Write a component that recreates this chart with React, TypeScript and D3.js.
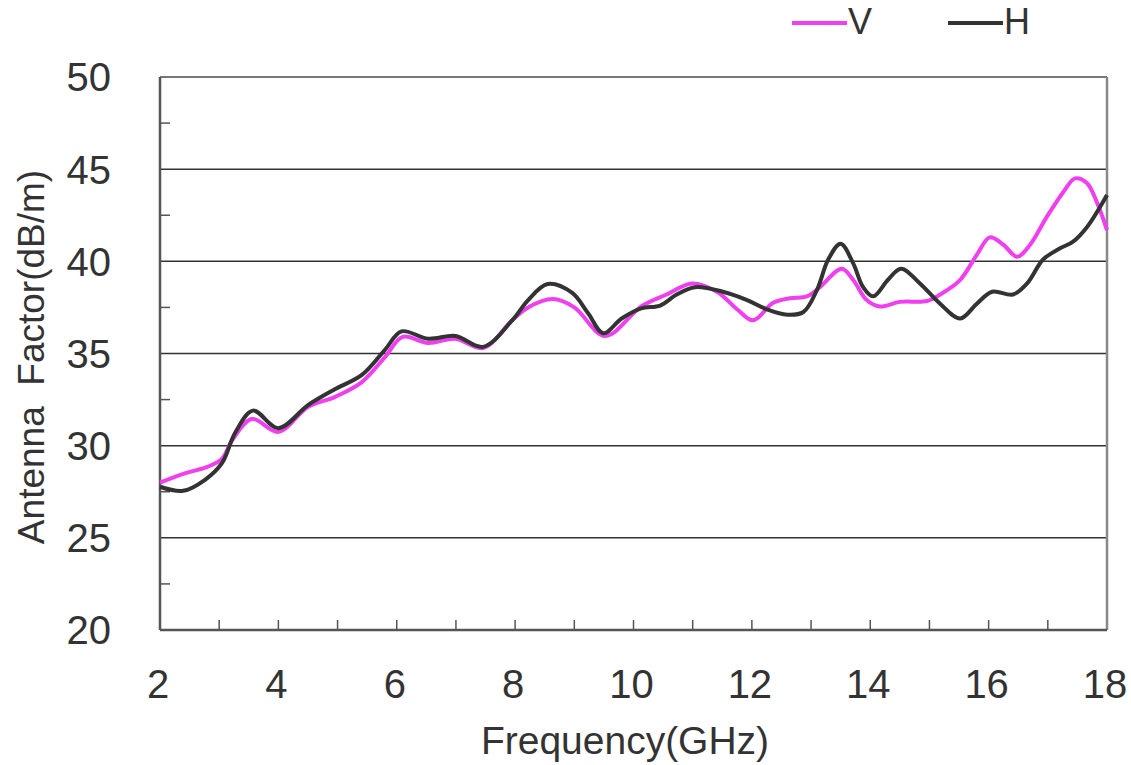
import React from "react";
import * as d3 from "d3";

const freqV = [2.0, 2.42, 2.8, 3.05, 3.22, 3.55, 4.0, 4.5, 4.96, 5.41, 5.8, 6.1, 6.53, 6.99, 7.46, 7.95, 8.22, 8.64, 9.0, 9.52, 10.13, 10.56, 10.99, 11.41, 11.75, 12.02, 12.36, 12.64, 12.93, 13.15, 13.52, 13.71, 13.94, 14.16, 14.5, 14.96, 15.18, 15.52, 15.8, 16.02, 16.25, 16.48, 16.7, 16.98, 17.26, 17.46, 17.66, 17.83, 18.0];
const valuesV = [28.0, 28.5, 28.85, 29.3, 30.3, 31.45, 30.75, 32.1, 32.65, 33.45, 34.8, 35.9, 35.57, 35.8, 35.3, 36.8, 37.5, 37.95, 37.5, 35.95, 37.55, 38.2, 38.8, 38.35, 37.4, 36.8, 37.75, 38.0, 38.1, 38.6, 39.6, 39.0, 37.9, 37.55, 37.8, 37.85, 38.2, 39.0, 40.35, 41.3, 40.9, 40.25, 40.9, 42.4, 43.75, 44.5, 44.25, 43.2, 41.7];

const freqH = [2.0, 2.39, 2.76, 3.05, 3.27, 3.57, 4.0, 4.5, 4.96, 5.41, 5.8, 6.08, 6.53, 6.99, 7.46, 7.95, 8.22, 8.55, 8.96, 9.23, 9.49, 9.8, 10.13, 10.45, 10.73, 11.04, 11.51, 11.92, 12.25, 12.6, 12.87, 13.1, 13.29, 13.5, 13.71, 13.88, 14.05, 14.3, 14.52, 14.84, 15.18, 15.52, 15.8, 16.06, 16.41, 16.65, 16.92, 17.2, 17.42, 17.66, 18.0];
const valuesH = [27.77, 27.55, 28.15, 29.07, 30.7, 31.9, 30.95, 32.2, 33.07, 33.84, 35.2, 36.2, 35.8, 35.95, 35.36, 36.8, 37.9, 38.77, 38.3, 37.2, 36.1, 36.9, 37.45, 37.6, 38.2, 38.6, 38.35, 37.9, 37.4, 37.1, 37.25, 38.45, 40.1, 40.95, 39.9, 38.6, 38.1, 39.0, 39.6, 38.8, 37.7, 36.9, 37.7, 38.35, 38.2, 38.8, 40.1, 40.7, 41.05, 41.85, 43.6];

const xTickLabels = [2, 4, 6, 8, 10, 12, 14, 16, 18];
const yTickLabels = [20, 25, 30, 35, 40, 45, 50];
const gridValues = [25, 30, 35, 40, 45];
const yMinorTicks = [22.5, 27.5, 32.5, 37.5, 42.5, 47.5];
const xMinorTicks = [3, 4, 5, 6, 7, 8, 9, 10, 11, 12, 13, 14, 15, 16, 17];

const seriesNames = ["V", "H"];
const seriesColors = ["#f03ff0", "#333333"];

const FONT = "'Liberation Sans', Arial, sans-serif";

export default function App() {
  const W = 1131, H = 765;
  const left = 160, right = 1107, top = 77, bottom = 630;
  const x = d3.scaleLinear().domain([2, 18]).range([left, right]);
  const y = d3.scaleLinear().domain([20, 50]).range([bottom, top]);
  const line = d3
    .line<[number, number]>()
    .x((d) => x(d[0]))
    .y((d) => y(d[1]))
    .curve(d3.curveCatmullRom.alpha(0.5));
  const dataV = freqV.map((f, i) => [f, valuesV[i]] as [number, number]);
  const dataH = freqH.map((f, i) => [f, valuesH[i]] as [number, number]);

  return (
    <svg width={W} height={H} style={{ position: "absolute", left: 0, top: 0, background: "#fff" }} fontFamily={FONT}>
      <rect x={0} y={0} width={W} height={H} fill="#fff" />
      {gridValues.map((v) => (
        <line key={v} x1={left} x2={right} y1={y(v)} y2={y(v)} stroke="#333" strokeWidth={1.5} />
      ))}
      <line x1={left} x2={right} y1={y(50)} y2={y(50)} stroke="#777" strokeWidth={2} />
      <line x1={right} x2={right} y1={top} y2={bottom} stroke="#888" strokeWidth={2.5} />
      {yMinorTicks.map((v) => (
        <line key={v} x1={left} x2={left + 10} y1={y(v)} y2={y(v)} stroke="#555" strokeWidth={1.5} />
      ))}
      {xMinorTicks.map((v) => (
        <line key={v} x1={x(v)} x2={x(v)} y1={bottom} y2={bottom - 10} stroke="#555" strokeWidth={1.5} />
      ))}
      <line x1={left} x2={left} y1={top} y2={bottom} stroke="#555" strokeWidth={2.5} />
      <line x1={left} x2={right} y1={bottom} y2={bottom} stroke="#555" strokeWidth={2.5} />

      <path d={line(dataV) || ""} fill="none" stroke={seriesColors[0]} strokeWidth={4} strokeLinejoin="round" />
      <path d={line(dataH) || ""} fill="none" stroke={seriesColors[1]} strokeWidth={4} strokeLinejoin="round" />

      {yTickLabels.map((v) => (
        <text key={v} x={111} y={y(v)} dy="0.36em" textAnchor="end" fontSize={40} fill="#333">
          {v}
        </text>
      ))}
      {xTickLabels.map((v) => (
        <text key={v} x={x(v) - 2} y={698} textAnchor="middle" fontSize={40} fill="#333">
          {v}
        </text>
      ))}
      <text x={625} y={754} textAnchor="middle" fontSize={39} fill="#333">
        Frequency(GHz)
      </text>
      <text
        transform={`translate(44, 357) rotate(-90)`}
        textAnchor="middle"
        fontSize={37}
        fill="#333"
        style={{ whiteSpace: "pre" }}
      >
        {"Antenna  Factor(dB/m)"}
      </text>

      {seriesNames.map((n, i) => {
        const lx = i === 0 ? 792 : 948;
        return (
          <g key={n}>
            <line x1={lx} x2={lx + 55} y1={23} y2={23} stroke={seriesColors[i]} strokeWidth={4} />
            <text x={lx + 56} y={34} fontSize={36} fill="#333">
              {n}
            </text>
          </g>
        );
      })}
    </svg>
  );
}
